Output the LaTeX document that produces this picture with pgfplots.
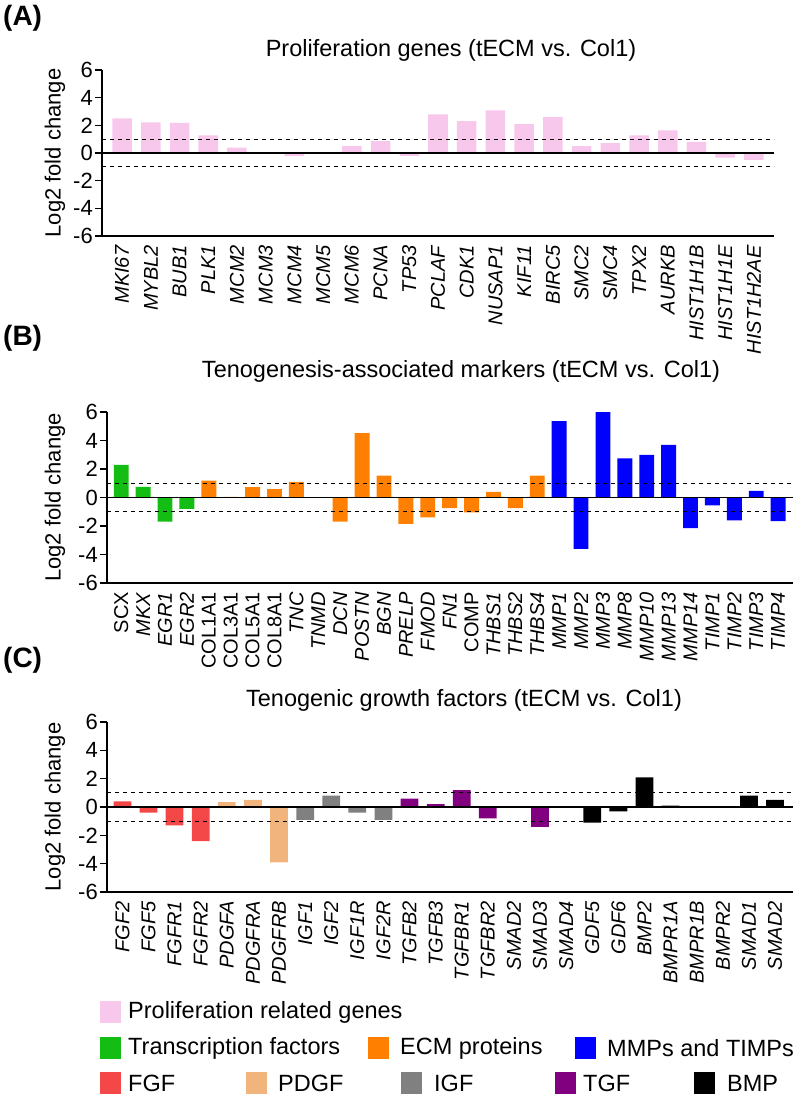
\documentclass[border=0pt]{standalone}
\usepackage{fontspec}
\setmainfont{Liberation Sans}
\usepackage{pgfplots}
\pgfplotsset{compat=1.18}

% group colours
\definecolor{prolif}{HTML}{F8C8EC}
\definecolor{tfgreen}{HTML}{13BD13}
\definecolor{ecmorange}{HTML}{FF8000}
\definecolor{mmpblue}{HTML}{0000FF}
\definecolor{fgfred}{HTML}{F44848}
\definecolor{pdgftan}{HTML}{F0B47C}
\definecolor{igfgray}{HTML}{808080}
\definecolor{tgfpurple}{HTML}{800080}

\newcommand{\fs}[1]{\fontsize{#1}{#1}\selectfont}

\pgfplotsset{
  fc/.style={
    scale only axis, clip=false,
    ymin=-6, ymax=6,
    ytick={-6,-4,-2,0,2,4,6},
    yticklabels={-6,-4,-2,0,2,4,6},
    axis x line*=bottom, axis y line*=left,
    axis line style={-, line width=1.6pt},
    tick align=outside,
    major tick length=7pt,
    ytick style={line width=1.6pt, black},
    xtick style={draw=none},
    yticklabel style={font=\fs{22}, inner sep=2pt},
    xticklabel style={font=\fs{20}, rotate=90, anchor=east, inner sep=2pt},
    ylabel={Log2 fold change},
    ylabel style={font=\fs{22}, at={(axis description cs:0,0.5)}, anchor=center},
  },
  bars/.style={ybar, bar width=0.68, bar shift=0pt, draw=none, fill=#1},
  refl/.style={black, line width=1.1pt, dash pattern=on 4pt off 4pt, forget plot},
  zerol/.style={black, line width=1.8pt, forget plot},
}

\begin{document}
\begin{tikzpicture}
\path[use as bounding box] (0,0) rectangle (797pt,-1097pt);

% ---------------- (A)
\node[anchor=west, inner sep=0, font=\bfseries\fs{28}] at (3pt,-18pt) {(A)};
\node[inner sep=0, font=\fs{23.5}] at (451pt,-50pt) {Proliferation genes (tECM vs. Col1)};
\begin{axis}[fc, at={(102pt,-236pt)}, anchor=south west,
  width=672pt, height=166pt,
  xmin=-0.7, xmax=22.7,
  ylabel style={yshift=47pt},
  xtick={0,...,22},
  xticklabels={\textit{MKI67},\textit{MYBL2},\textit{BUB1},\textit{PLK1},\textit{MCM2},\textit{MCM3},\textit{MCM4},\textit{MCM5},\textit{MCM6},\textit{PCNA},\textit{TP53},\textit{PCLAF},\textit{CDK1},\textit{NUSAP1},\textit{KIF11},\textit{BIRC5},\textit{SMC2},\textit{SMC4},\textit{TPX2},\textit{AURKB},\textit{HIST1H1B},\textit{HIST1H1E},\textit{HIST1H2AE}},
]
\addplot[bars=prolif] coordinates {
 (0,2.50) (1,2.22) (2,2.17) (3,1.28) (4,0.39) (5,0.03) (6,-0.22) (7,0.02)
 (8,0.49) (9,0.85) (10,-0.20) (11,2.80) (12,2.30) (13,3.09) (14,2.08) (15,2.61)
 (16,0.49) (17,0.72) (18,1.28) (19,1.64) (20,0.80) (21,-0.33) (22,-0.50)};
\addplot[refl] coordinates {(-0.7,1) (22.7,1)};
\addplot[refl] coordinates {(-0.7,-1) (22.7,-1)};
\addplot[zerol] coordinates {(-0.7,0) (22.7,0)};
\end{axis}

% ---------------- (B)
\node[anchor=west, inner sep=0, font=\bfseries\fs{28}] at (3pt,-338pt) {(B)};
\node[inner sep=0, font=\fs{23.5}] at (461pt,-371pt) {Tenogenesis-associated markers (tECM vs. Col1)};
\begin{axis}[fc, at={(107pt,-583pt)}, anchor=south west,
  width=686pt, height=171pt,
  xmin=-0.65, xmax=30.68,
  ylabel style={yshift=52pt},
  xtick={0,...,30},
  xticklabels={SCX,\textit{MKX},\textit{EGR1},\textit{EGR2},COL1A1,COL3A1,COL5A1,COL8A1,\textit{TNC},\textit{TNMD},\textit{DCN},\textit{POSTN},\textit{BGN},\textit{PRELP},\textit{FMOD},\textit{FN1},COMP,\textit{THBS1},\textit{THBS2},\textit{THBS4},\textit{MMP1},\textit{MMP2},\textit{MMP3},\textit{MMP8},\textit{MMP10},\textit{MMP13},\textit{MMP14},\textit{TIMP1},\textit{TIMP2},\textit{TIMP3},\textit{TIMP4}},
]
\addplot[bars=tfgreen] coordinates {(0,2.29) (1,0.75) (2,-1.70) (3,-0.80)};
\addplot[bars=ecmorange] coordinates {
 (4,1.18) (5,0.05) (6,0.73) (7,0.59) (8,1.10) (9,0.00) (10,-1.70) (11,4.52)
 (12,1.53) (13,-1.85) (14,-1.40) (15,-0.75) (16,-1.05) (17,0.40) (18,-0.75) (19,1.53)};
\addplot[bars=mmpblue] coordinates {
 (20,5.36) (21,-3.60) (22,6.00) (23,2.75) (24,2.99) (25,3.70) (26,-2.15)
 (27,-0.55) (28,-1.60) (29,0.47) (30,-1.65)};
\addplot[refl] coordinates {(-0.65,1) (30.68,1)};
\addplot[refl] coordinates {(-0.65,-1) (30.68,-1)};
\addplot[zerol] coordinates {(-0.65,0) (30.68,0)};
\end{axis}

% ---------------- (C)
\node[anchor=west, inner sep=0, font=\bfseries\fs{28}] at (3pt,-660pt) {(C)};
\node[inner sep=0, font=\fs{23.5}] at (464pt,-700pt) {Tenogenic growth factors (tECM vs. Col1)};
\begin{axis}[fc, at={(107pt,-892pt)}, anchor=south west,
  width=686pt, height=170pt,
  xmin=-0.59, xmax=25.69,
  ylabel style={yshift=52pt},
  xtick={0,...,25},
  xticklabels={\textit{FGF2},\textit{FGF5},\textit{FGFR1},\textit{FGFR2},\textit{PDGFA},\textit{PDGFRA},\textit{PDGFRB},\textit{IGF1},\textit{IGF2},\textit{IGF1R},\textit{IGF2R},\textit{TGFB2},\textit{TGFB3},\textit{TGFBR1},\textit{TGFBR2},\textit{SMAD2},\textit{SMAD3},\textit{SMAD4},\textit{GDF5},\textit{GDF6},\textit{BMP2},\textit{BMPR1A},\textit{BMPR1B},\textit{BMPR2},\textit{SMAD1},\textit{SMAD2}},
]
\addplot[bars=fgfred] coordinates {(0,0.40) (1,-0.40) (2,-1.30) (3,-2.40)};
\addplot[bars=pdgftan] coordinates {(4,0.35) (5,0.50) (6,-3.90)};
\addplot[bars=igfgray] coordinates {(7,-0.90) (8,0.80) (9,-0.40) (10,-0.90)};
\addplot[bars=tgfpurple] coordinates {(11,0.60) (12,0.20) (13,1.20) (14,-0.80) (15,0.05) (16,-1.40) (17,0.05)};
\addplot[bars=black] coordinates {(18,-1.10) (19,-0.30) (20,2.10) (21,0.10) (22,0.05) (23,0.05) (24,0.80) (25,0.50)};
\addplot[refl] coordinates {(-0.59,1) (25.69,1)};
\addplot[refl] coordinates {(-0.59,-1) (25.69,-1)};
\addplot[zerol] coordinates {(-0.59,0) (25.69,0)};
\end{axis}

% ---------------- legend
\begin{scope}[every node/.style={anchor=west, inner sep=0, font=\fs{23.5}}]
\fill[prolif] (100pt,-1001pt) rectangle (121pt,-1023pt);
\node at (128pt,-1012pt) {Proliferation related genes};
\fill[tfgreen] (100pt,-1037pt) rectangle (121pt,-1059pt);
\node at (128pt,-1048pt) {Transcription factors};
\fill[ecmorange] (368pt,-1037pt) rectangle (389pt,-1059pt);
\node at (400pt,-1048pt) {ECM proteins};
\fill[mmpblue] (575pt,-1037pt) rectangle (596pt,-1059pt);
\node at (607pt,-1048pt) {MMPs and TIMPs};
\fill[fgfred] (100pt,-1072pt) rectangle (121pt,-1094pt);
\node at (128pt,-1083pt) {FGF};
\fill[pdgftan] (246pt,-1072pt) rectangle (267pt,-1094pt);
\node at (278pt,-1083pt) {PDGF};
\fill[igfgray] (401pt,-1072pt) rectangle (422pt,-1094pt);
\node at (434pt,-1083pt) {IGF};
\fill[tgfpurple] (555pt,-1072pt) rectangle (576pt,-1094pt);
\node at (583pt,-1083pt) {TGF};
\fill[black] (694pt,-1072pt) rectangle (715pt,-1094pt);
\node at (727pt,-1083pt) {BMP};
\end{scope}
\end{tikzpicture}
\end{document}
